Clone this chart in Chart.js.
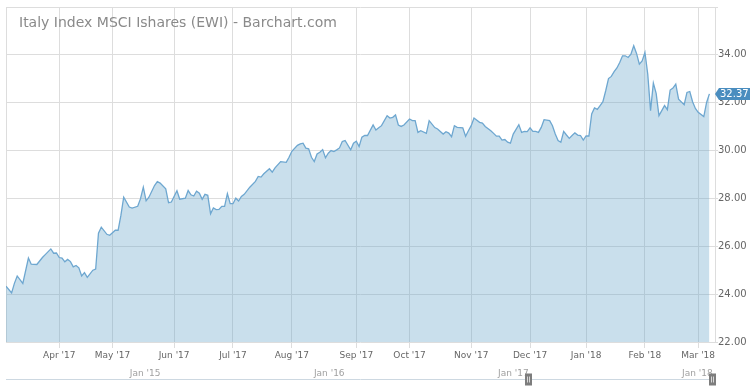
<!DOCTYPE html>
<html>
<head>
<meta charset="utf-8">
<title>Italy Index MSCI Ishares (EWI) - Barchart.com</title>
<script src="https://cdn.jsdelivr.net/npm/chart.js@4.4.1/dist/chart.umd.min.js"></script>
<style>
    body { margin: 0; background: #fff; }
    #wrap { position: relative; width: 750px; height: 391px; }
    #chart { display: block; }
    #title {
        position: absolute; left: 19px; top: 15px;
        font-family: 'DejaVu Sans', sans-serif; font-size: 14px; line-height: 14px;
        color: #8a8a8a; white-space: nowrap; pointer-events: none;
    }
</style>
</head>
<body>
<div id="wrap">
    <canvas id="chart" width="750" height="391"></canvas>
    <div id="title">Italy Index MSCI Ishares (EWI) - Barchart.com</div>
</div>
<script>
"use strict";

// trading day index (0 = 7 Mar 2017) and the close
const dayIdx = [
    0, 2, 3, 4, 6, 8, 9, 11, 13, 14, 16, 17, 18, 19, 20, 21, 22, 23, 24, 25, 26, 27, 28, 29,
    31, 32, 33, 34, 36, 37, 39, 40, 41, 42, 44, 45, 47, 48, 49, 50, 51, 53, 54, 55, 57, 58, 59,
    61, 62, 64, 65, 66, 67, 68, 69, 70, 71, 72, 73, 74, 75, 76, 77, 78, 79, 80, 81, 82, 83, 84, 85,
    87, 89, 90, 91, 92, 94, 95, 96, 98, 100, 101, 102, 104, 105, 106, 107, 108, 109, 110,
    111, 112, 113, 114, 115, 116, 117, 118, 119, 120, 121, 123, 124, 125, 126, 127, 128, 129,
    131, 132, 133, 134, 136, 137, 138, 139, 140, 141, 142, 144, 145, 146, 147, 148, 150, 151,
    153, 154, 156, 157, 158, 159, 160, 161, 163, 164, 165, 166, 167, 169, 170, 171, 173, 174,
    175, 176, 177, 178, 179, 180, 181, 183, 184, 185, 186, 187, 188, 189, 190, 191, 192, 194,
    195, 196, 197, 198, 199, 200, 201, 202, 203, 204, 205, 206, 207, 208, 209, 210, 211, 212,
    213, 214, 215, 216, 217, 218, 219, 220, 221, 222, 223, 224, 225, 226, 227, 228, 229, 230,
    231, 232, 233, 234, 235, 236, 237, 238, 239, 240, 242, 243, 244, 245, 246, 247, 249, 250, 251
];
const closes = [
    24.33, 24.05, 24.45, 24.76, 24.45, 25.51, 25.25, 25.24, 25.53, 25.65, 25.89, 25.71, 25.72,
    25.53, 25.51, 25.35, 25.45, 25.36, 25.14, 25.20, 25.10, 24.76, 24.90, 24.70,
    25.00, 25.05, 26.55, 26.80, 26.50, 26.46, 26.67, 26.67, 27.29, 28.05, 27.64, 27.60, 27.67,
    27.99, 28.47, 27.90, 28.05, 28.54, 28.70, 28.64, 28.40, 27.82, 27.85,
    28.32, 27.97, 28.01, 28.33, 28.15, 28.10, 28.30, 28.22, 27.96, 28.17, 28.13, 27.36, 27.60,
    27.53, 27.54, 27.67, 27.67, 28.20, 27.78, 27.78, 28.01, 27.89, 28.08, 28.17,
    28.47, 28.71, 28.92, 28.89, 29.03, 29.24, 29.10, 29.28, 29.54, 29.51, 29.72, 29.97, 30.22,
    30.28, 30.31, 30.10, 30.07, 29.72, 29.54,
    29.86, 29.93, 30.04, 29.70, 29.89, 30.00, 29.96, 30.03, 30.11, 30.38, 30.42, 30.03, 30.31,
    30.39, 30.17, 30.56, 30.63, 30.63,
    31.07, 30.86, 30.95, 31.04, 31.46, 31.36, 31.39, 31.49, 31.07, 31.01, 31.07, 31.32, 31.25,
    31.25, 30.76, 30.83, 30.72, 31.25,
    30.96, 30.90, 30.69, 30.79, 30.73, 30.58, 31.04, 30.97, 30.95, 30.60, 30.83, 31.04, 31.36,
    31.18, 31.15, 31.01, 30.83, 30.72,
    30.60, 30.60, 30.44, 30.46, 30.35, 30.31, 30.69, 31.08, 30.76, 30.80, 30.79, 30.95, 30.80,
    30.80, 30.76, 30.97, 31.29, 31.25,
    31.04, 30.69, 30.42, 30.35, 30.80, 30.65, 30.51, 30.63, 30.74, 30.65, 30.63, 30.44, 30.61,
    30.61, 31.53, 31.78, 31.72, 31.88,
    32.04, 32.50, 33.01, 33.10, 33.30, 33.45, 33.68, 33.96, 33.96, 33.89, 34.03, 34.38, 34.06,
    33.61, 33.75, 34.10, 33.20, 31.67,
    32.82, 32.39, 31.46, 31.67, 31.88, 31.71, 32.53, 32.61, 32.78, 32.15, 31.92, 32.43, 32.47,
    32.04, 31.76, 31.60, 31.42, 32.01, 32.37
];

// month ticks on the trading day axis
const monthIdx = [19, 38, 60, 81, 102, 125, 144, 166, 187, 207, 228, 247];
const monthLabels = ["Apr '17", "May '17", "Jun '17", "Jul '17", "Aug '17", "Sep '17",
    "Oct '17", "Nov '17", "Dec '17", "Jan '18", "Feb '18", "Mar '18"];

// navigator strip (years as decimals)
const navYears = [2015, 2016, 2017, 2018];
const navLabels = ["Jan '15", "Jan '16", "Jan '17", "Jan '18"];
const navWindow = [2017.18, 2018.18];

const lastClose = closes[closes.length - 1];

Chart.defaults.font.family = "'DejaVu Sans', sans-serif";

const navigatorPlugin = {
    id: 'navigator',
    afterDraw(chart) {
        const nav = chart.scales.nav;
        const ctx = chart.ctx;
        const y = Math.round(nav.top + 15) + 0.5;
        ctx.save();
        ctx.strokeStyle = '#cdd8e1';
        ctx.lineWidth = 1;
        ctx.beginPath();
        ctx.moveTo(chart.chartArea.left, y);
        ctx.lineTo(chart.chartArea.right, y);
        ctx.stroke();
        for (let i = 0; i < navWindow.length; i++) {
            const x = Math.round(nav.getPixelForValue(navWindow[i]));
            ctx.fillStyle = '#7d7d7d';
            ctx.fillRect(x - 3, y - 6, 7, 12);
            ctx.strokeStyle = '#d8d8d8';
            ctx.beginPath();
            ctx.moveTo(x - 0.5, y - 3);
            ctx.lineTo(x - 0.5, y + 3);
            ctx.moveTo(x + 1.5, y - 3);
            ctx.lineTo(x + 1.5, y + 3);
            ctx.stroke();
        }
        ctx.restore();
    }
};

const lastPricePlugin = {
    id: 'lastPrice',
    afterDraw(chart) {
        const yScale = chart.scales.y;
        const ctx = chart.ctx;
        const y = Math.round(yScale.getPixelForValue(lastClose));
        const x = yScale.left + 4;
        ctx.save();
        ctx.fillStyle = '#4a8dbf';
        ctx.beginPath();
        ctx.moveTo(x - 4, y);
        ctx.lineTo(x, y - 6);
        ctx.lineTo(chart.width, y - 6);
        ctx.lineTo(chart.width, y + 6);
        ctx.lineTo(x, y + 6);
        ctx.closePath();
        ctx.fill();
        ctx.fillStyle = '#ffffff';
        ctx.font = "10px 'DejaVu Sans', sans-serif";
        ctx.textBaseline = 'middle';
        ctx.textAlign = 'left';
        ctx.fillText(lastClose.toFixed(2), x + 1, y + 0.5);
        ctx.restore();
    }
};

const chartCanvas = document.getElementById('chart');
const chart = new Chart(chartCanvas, {
    type: 'line',
    data: {
        datasets: [{
            label: 'EWI',
            data: dayIdx.map((d, i) => ({ x: d, y: closes[i] })),
            xAxisID: 'x',
            yAxisID: 'y',
            borderColor: '#6ea7d0',
            backgroundColor: 'rgba(101,164,201,0.35)',
            borderWidth: 1.3,
            pointRadius: 0,
            tension: 0,
            fill: 'start'
        }]
    },
    options: {
        responsive: false,
        animation: false,
        devicePixelRatio: 1,
        layout: { padding: { left: 6, top: 7, right: 0, bottom: 0 } },
        plugins: {
            legend: { display: false },
            tooltip: { enabled: false },
            title: { display: false }
        },
        scales: {
            x: {
                type: 'linear',
                position: 'bottom',
                min: 0,
                max: 253,
                weight: 0,
                afterBuildTicks: (scale) => { scale.ticks = monthIdx.map(v => ({ value: v })); },
                afterFit: (scale) => { scale.height = 22; },
                grid: { color: '#dddddd', tickLength: 6, drawTicks: true },
                border: { display: false },
                ticks: {
                    autoSkip: false,
                    maxRotation: 0,
                    padding: 2,
                    color: '#666666',
                    font: { size: 9 },
                    callback: (value) => monthLabels[monthIdx.indexOf(value)]
                }
            },
            nav: {
                type: 'linear',
                axis: 'x',
                position: 'bottom',
                min: 2014.3435,
                max: 2018.195,
                weight: 1,
                afterBuildTicks: (scale) => { scale.ticks = navYears.map(v => ({ value: v })); },
                afterFit: (scale) => { scale.height = 27; },
                grid: { display: false, drawTicks: false },
                border: { display: false },
                ticks: {
                    autoSkip: false,
                    maxRotation: 0,
                    align: 'start',
                    labelOffset: 3,
                    padding: 4,
                    color: '#a0a0a0',
                    font: { size: 9 },
                    callback: (value) => navLabels[navYears.indexOf(value)]
                }
            },
            y: {
                type: 'linear',
                position: 'right',
                min: 22,
                max: 36,
                afterFit: (scale) => { scale.width = 35; },
                grid: { color: '#dddddd', tickLength: 3 },
                border: { display: true, color: '#dddddd' },
                ticks: {
                    stepSize: 2,
                    padding: 0,
                    color: '#666666',
                    font: { size: 10 },
                    callback: (value) => value === 36 ? '' : value.toFixed(2)
                }
            },
            yl: {
                type: 'linear',
                axis: 'y',
                position: 'left',
                afterFit: (scale) => { scale.width = 0; },
                grid: { display: false, drawTicks: false },
                border: { display: true, color: '#dddddd' },
                ticks: { display: false }
            }
        }
    },
    plugins: [navigatorPlugin, lastPricePlugin]
});
</script>
</body>
</html>
